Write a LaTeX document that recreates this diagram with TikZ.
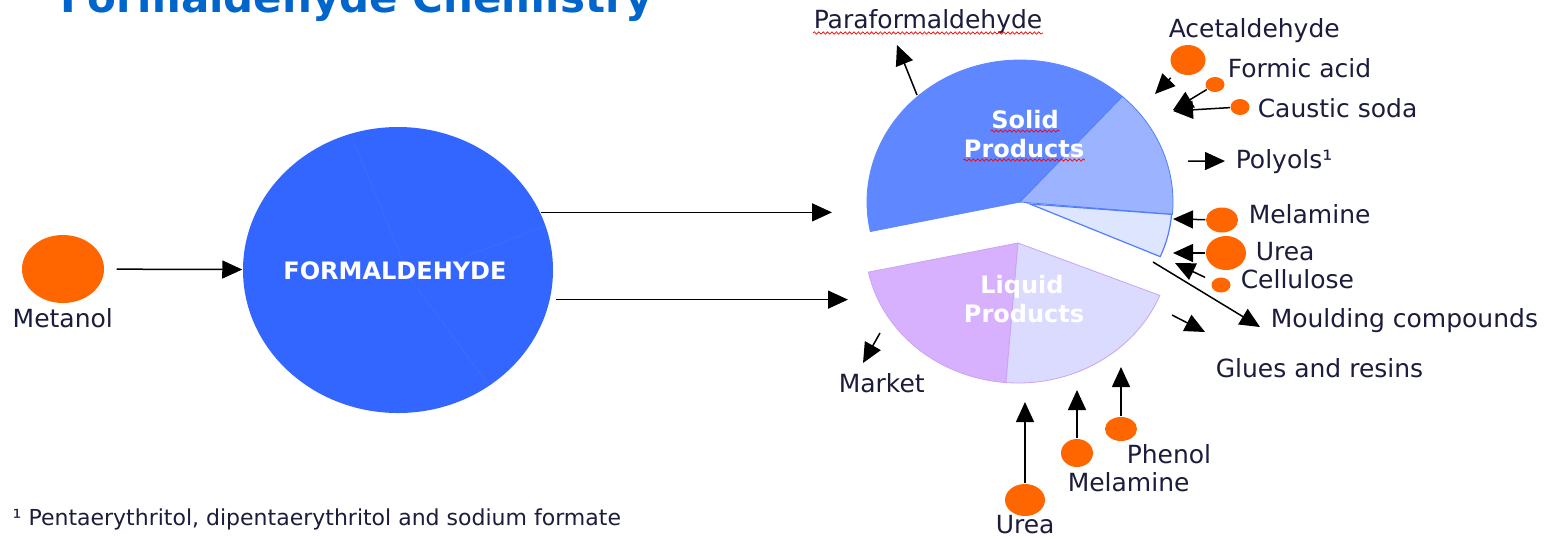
\documentclass[tikz,border=0pt]{standalone}
\usepackage{fontspec}
\setmainfont{DejaVu Sans}
\usetikzlibrary{arrows.meta,shapes.geometric,decorations.pathmorphing}

\definecolor{formblue}{HTML}{3366FF}
\definecolor{formline}{HTML}{3C6DFF}
\definecolor{titleblue}{HTML}{0066CC}
\definecolor{dotorange}{HTML}{FF6600}
\definecolor{soliddark}{HTML}{5F87FF}
\definecolor{solidmid}{HTML}{9CB4FF}
\definecolor{solidlight}{HTML}{DEE6FF}
\definecolor{solidedge}{HTML}{4F7DFF}
\definecolor{liquidleft}{HTML}{D7B1FD}
\definecolor{liquidright}{HTML}{DBDBFF}
\definecolor{liquidedge}{HTML}{C9A3F5}
\definecolor{labeltext}{HTML}{1C1C3C}

\begin{document}
\begin{tikzpicture}[x=0.5pt,y=-0.5pt,>={Triangle[length=10pt,width=9pt]},line width=0.75pt,
  dot/.style={ellipse,fill=dotorange,inner sep=0pt},
  chem/.style={anchor=base west,inner sep=0pt,text=labeltext,font=\fontsize{12.5}{15}\selectfont},
  pielabel/.style={anchor=base,inner sep=0pt,text=white,font=\bfseries\fontsize{12}{14}\selectfont},
  spell/.style={draw=red,line width=0.35pt,decorate,decoration={snake,amplitude=0.6pt,segment length=2.2pt}}]
\path[use as bounding box,clip] (0,0) rectangle (1555,538);
\fill[white] (0,0) rectangle (1555,538);

\node[anchor=base west,inner sep=0pt,text=titleblue,font=\bfseries\fontsize{21}{25}\selectfont] (title) at (60,12) {Formaldehyde Chemistry};

% formaldehyde
\node[dot,minimum width=41pt,minimum height=34pt] (metanol) at (63,269) {};
\node[chem] (metanolt) at (12,327) {Metanol};
\node[ellipse,fill=formblue,inner sep=0pt,minimum width=155pt,minimum height=143pt] (formaldehyde) at (398,270) {};
\draw[formline,line width=0.4pt] (410,278) -- (353,140) (410,278) -- (545,226) (410,278) -- (487,383);
\node[pielabel,anchor=center] (formtext) at (395,271) {FORMALDEHYDE};

% solid products
\coordinate (solidc) at (1020,202);
\coordinate (solidx) at (1030,204);
\filldraw[fill=soliddark,draw=soliddark,line width=0.4pt] (solidc) -- ++(-48:153 and 142) arc[start angle=-48,end angle=-192,x radius=153,y radius=142] -- cycle;
\filldraw[fill=solidmid,draw=solidedge,line width=0.4pt] (solidc) -- ++(5:153 and 142) arc[start angle=5,end angle=-48,x radius=153,y radius=142] -- cycle;
\filldraw[fill=solidlight,draw=solidedge,line width=0.6pt] (solidx) -- ++(4.5:142 and 132) arc[start angle=4.5,end angle=23.5,x radius=142,y radius=132] -- cycle;
\node[pielabel] (solida) at (1025,128) {Solid};
\node[pielabel] (solidb) at (1024,157) {Products};

% liquid products
\coordinate (liquidc) at (1018,243);
\filldraw[fill=liquidleft,draw=liquidedge,line width=0.4pt] (liquidc) -- ++(168:153 and 140) arc[start angle=168,end angle=94.5,x radius=153,y radius=140] -- cycle;
\filldraw[fill=liquidright,draw=liquidedge,line width=0.4pt] (liquidc) -- ++(94.5:153 and 140) arc[start angle=94.5,end angle=22,x radius=153,y radius=140] -- cycle;
\node[pielabel] (liquida) at (1022,293) {Liquid};
\node[pielabel] (liquidb) at (1024,322) {Products};

% raw materials and products
\node[dot,minimum width=17.5pt,minimum height=15pt] (acet) at (1188,60) {};
\node[dot,minimum width=9.5pt,minimum height=7.5pt] (formic) at (1215,84.5) {};
\node[dot,minimum width=9.5pt,minimum height=8pt] (caustic) at (1240,107) {};
\node[dot,minimum width=16pt,minimum height=12.5pt] (melamr) at (1222,220) {};
\node[dot,minimum width=20pt,minimum height=17pt] (ureer) at (1226,253) {};
\node[dot,minimum width=9.5pt,minimum height=7.5pt] (cellulose) at (1221,285) {};
\node[dot,minimum width=20pt,minimum height=16pt] (ureeb) at (1025,500) {};
\node[dot,minimum width=16pt,minimum height=14pt] (melamb) at (1077,453) {};
\node[dot,minimum width=16pt,minimum height=12pt] (phenol) at (1121,429) {};

\node[chem] (paraform) at (813,28) {Paraformaldehyde};
\node[chem] (acett) at (1168,37) {Acetaldehyde};
\node[chem] (formict) at (1227,77) {Formic acid};
\node[chem] (caustict) at (1257,117) {Caustic soda};
\node[chem] (polyols) at (1235,168) {Polyols¹};
\node[chem] (melamrt) at (1248,223) {Melamine};
\node[chem] (ueert) at (1255,260) {Urea};
\node[chem] (cellut) at (1240,288) {Cellulose};
\node[chem] (mouldt) at (1270,327) {Moulding compounds};
\node[chem] (gluest) at (1215,377) {Glues and resins};
\node[chem] (markett) at (838,392) {Market};
\node[chem] (phenolt) at (1126,463) {Phenol};
\node[chem] (melambt) at (1067,491) {Melamine};
\node[chem] (ureebt) at (995,533) {Urea};
\node[chem,font=\fontsize{11}{13}\selectfont] (footnote) at (12,525) {¹ Pentaerythritol, dipentaerythritol and sodium formate};

\draw[spell] ([yshift=-2.5pt]paraform.base west) -- ([yshift=-2.5pt]paraform.base east);
\draw[spell] ([yshift=-1.5pt]solida.base west) -- ([yshift=-1.5pt]solida.base east);
\draw[spell] ([yshift=-1.5pt]solidb.base west) -- ([yshift=-1.5pt]solidb.base east);

% arrow ends
\coordinate (solidin) at (832,211);
\coordinate (liquidin) at (848,300);
\coordinate (paraout) at (917,95);
\coordinate (paratip) at (897,45);
\coordinate (acettip) at (1155,94);
\coordinate (formictip) at (1173,110);
\coordinate (caustictip) at (1173,111);
\coordinate (polyout) at (1188,161);
\coordinate (melamtip) at (1173,219);
\coordinate (ureetip) at (1173,253);
\coordinate (cellutip) at (1175,263);
\coordinate (mouldout) at (1153,262);
\coordinate (mouldtip) at (1260,327);
\coordinate (gluesout) at (1172,315);
\coordinate (gluestip) at (1205,332);
\coordinate (marketout) at (880,333);
\coordinate (markettip) at (863,363);
\coordinate (ureebtip) at (1025,402);
\coordinate (melambtip) at (1077,390);
\coordinate (phenoltip) at (1121,367);

\path[->] (metanol) edge[shorten <=6pt] (formaldehyde)
(formaldehyde.22.6) edge (formaldehyde.22.6 -| solidin)
(formaldehyde.-11) edge[shorten <=3pt] (formaldehyde.-11 -| liquidin)
(paraout) edge (paratip)
(acet) edge[shorten <=4pt] (acettip)
(formic) edge (formictip)
(caustic) edge (caustictip)
(polyout) edge[shorten >=5pt] (polyols)
(melamr) edge (melamtip)
(ureer) edge (ureetip)
(cellulose) edge[shorten <=4pt] (cellutip)
(mouldout) edge (mouldtip)
(gluesout) edge (gluestip)
(marketout) edge (markettip)
(ureeb) edge (ureebtip)
(melamb) edge (melambtip)
(phenol) edge (phenoltip);
\end{tikzpicture}
\end{document}
